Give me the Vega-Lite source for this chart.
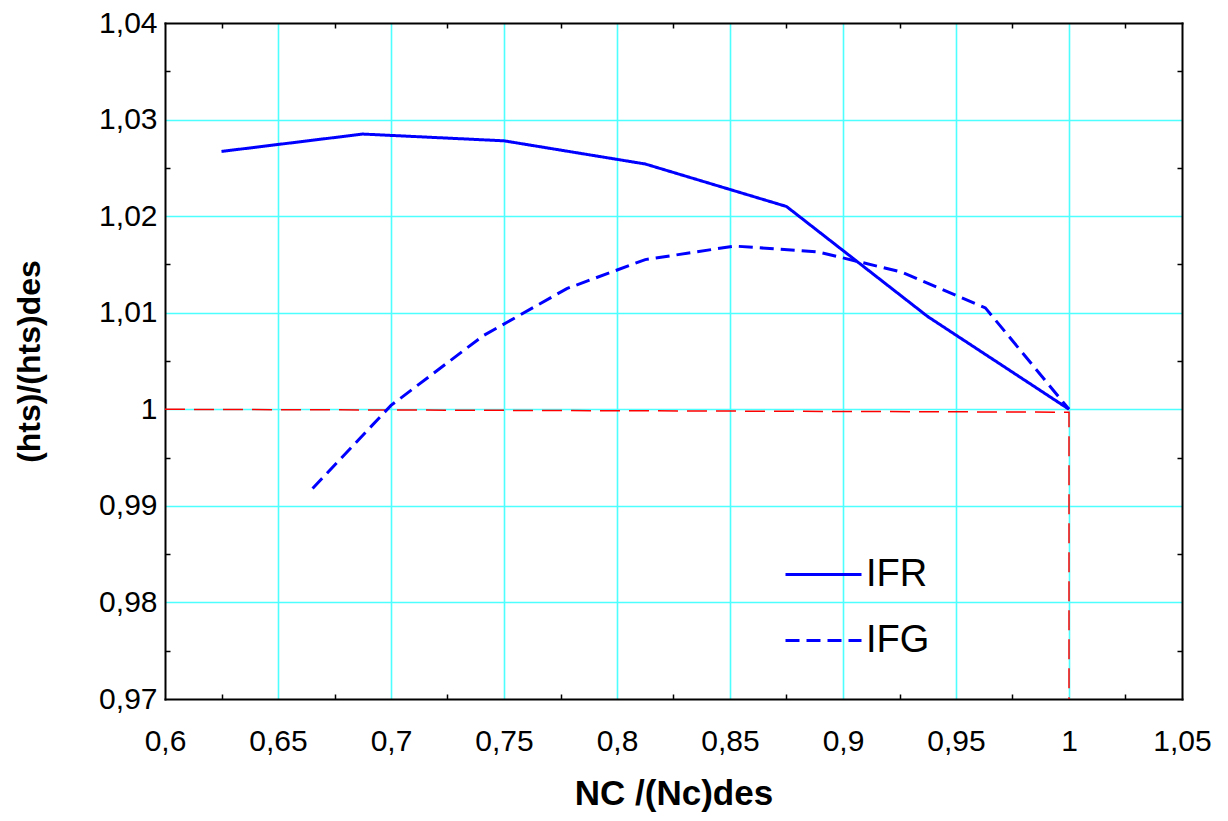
{
  "$schema": "https://vega.github.io/schema/vega-lite/v6.json",
  "autosize": {"type": "none"},
  "padding": {"left": 165, "top": 23, "right": 46, "bottom": 122},
  "width": 1017,
  "height": 676,
  "background": "white",
  "config": {
    "view": {"stroke": null},
    "axis": {"labelFont": "Liberation Sans", "titleFont": "Liberation Sans", "labelColor": "black", "titleColor": "black"}
  },
  "datasets": {
    "curves": [
      {"series": "IFR", "x": 0.625, "y": 1.0267},
      {"series": "IFR", "x": 0.6875, "y": 1.0285},
      {"series": "IFR", "x": 0.75, "y": 1.0278},
      {"series": "IFR", "x": 0.8125, "y": 1.0254},
      {"series": "IFR", "x": 0.875, "y": 1.021},
      {"series": "IFR", "x": 0.9375, "y": 1.0096},
      {"series": "IFR", "x": 1.0, "y": 1.0},
      {"series": "IFG", "x": 0.6653, "y": 0.9918},
      {"series": "IFG", "x": 0.7, "y": 1.0004},
      {"series": "IFG", "x": 0.7407, "y": 1.0076},
      {"series": "IFG", "x": 0.7778, "y": 1.0125},
      {"series": "IFG", "x": 0.8125, "y": 1.0155},
      {"series": "IFG", "x": 0.852, "y": 1.0169},
      {"series": "IFG", "x": 0.889, "y": 1.0163},
      {"series": "IFG", "x": 0.926, "y": 1.0142},
      {"series": "IFG", "x": 0.963, "y": 1.0105},
      {"series": "IFG", "x": 1.0, "y": 1.0}
    ],
    "ref": [
      {"i": 0, "x": 0.6, "y": 1.0},
      {"i": 1, "x": 1.0, "y": 0.9997},
      {"i": 2, "x": 1.0, "y": 0.97}
    ]
  },
  "resolve": {"axis": {"x": "independent", "y": "independent"}},
  "layer": [
    {
      "data": {"name": "ref"},
      "mark": {"type": "line", "color": "#FF0000", "strokeWidth": 1.5, "strokeDash": [20, 9]},
      "encoding": {
        "x": {"field": "x", "type": "quantitative", "scale": {"domain": [0.6, 1.05], "nice": false, "zero": false},
          "axis": {"orient": "top", "title": null, "labels": false, "grid": false,
            "values": [0.625, 0.675, 0.725, 0.775, 0.825, 0.875, 0.925, 0.975, 1.025],
            "tickSize": -5, "tickColor": "black", "tickWidth": 1.5, "domainColor": "black", "domainWidth": 2, "domainCap": "square"}},
        "y": {"field": "y", "type": "quantitative", "scale": {"domain": [0.97, 1.04], "nice": false, "zero": false},
          "axis": {"orient": "right", "title": null, "labels": false, "grid": false,
            "values": [0.975, 0.985, 0.995, 1.005, 1.015, 1.025, 1.035],
            "tickSize": -5, "tickColor": "black", "tickWidth": 1.5, "domainColor": "black", "domainWidth": 2, "domainCap": "square"}},
        "order": {"field": "i", "type": "quantitative"}
      }
    },
    {
      "data": {"name": "curves"},
      "mark": {"type": "line", "color": "#0000FF", "strokeWidth": 3},
      "encoding": {
        "x": {"field": "x", "type": "quantitative",
          "axis": {"orient": "bottom", "title": "NC /(Nc)des", "titleFontSize": 35, "titleFontWeight": "bold", "titlePadding": 20,
            "values": [0.6, 0.625, 0.65, 0.675, 0.7, 0.725, 0.75, 0.775, 0.8, 0.825, 0.85, 0.875, 0.9, 0.925, 0.95, 0.975, 1, 1.025, 1.05],
            "labelExpr": "round(datum.value*1000) % 50 == 0 ? replace(format(datum.value, '~g'), '.', ',') : ''",
            "labelFontSize": 30, "labelPadding": 32, "labelFlush": false, "labelOverlap": false,
            "grid": true, "gridColor": "#4DFFFF", "gridWidth": 1.6,
            "gridOpacity": {"condition": {"test": "round(datum.value*1000) % 50 == 0 && datum.value > 0.61 && datum.value < 1.04", "value": 1}, "value": 0},
            "tickSize": -5, "tickColor": "black", "tickWidth": 1.5,
            "tickOpacity": {"condition": {"test": "round(datum.value*1000) % 50 == 0", "value": 0}, "value": 1},
            "domainColor": "black", "domainWidth": 2, "domainCap": "square"}},
        "y": {"field": "y", "type": "quantitative",
          "axis": {"orient": "left", "title": "(hts)/(hts)des", "titleFontSize": 32, "titleFontWeight": "bold", "titlePadding": 52,
            "values": [0.97, 0.975, 0.98, 0.985, 0.99, 0.995, 1, 1.005, 1.01, 1.015, 1.02, 1.025, 1.03, 1.035, 1.04],
            "labelExpr": "round(datum.value*1000) % 10 == 0 ? replace(format(datum.value, '~g'), '.', ',') : ''",
            "labelFontSize": 30, "labelPadding": 13, "labelFlush": false, "labelOverlap": false,
            "grid": true, "gridColor": "#4DFFFF", "gridWidth": 1.6,
            "gridOpacity": {"condition": {"test": "round(datum.value*1000) % 10 == 0 && datum.value > 0.971 && datum.value < 1.039", "value": 1}, "value": 0},
            "tickSize": -5, "tickColor": "black", "tickWidth": 1.5,
            "tickOpacity": {"condition": {"test": "round(datum.value*1000) % 10 == 0", "value": 0}, "value": 1},
            "domainColor": "black", "domainWidth": 2, "domainCap": "square"}},
        "strokeDash": {"field": "series", "type": "nominal",
          "scale": {"domain": ["IFR", "IFG"], "range": [[1, 0], [14, 7]]},
          "legend": {"orient": "none", "legendX": 638, "legendY": 531, "title": null, "padding": 0,
            "symbolType": "M-2,0H2", "symbolSize": 1444, "symbolStrokeWidth": 3, "symbolStrokeColor": "#0000FF",
            "labelFont": "Liberation Sans", "labelFontSize": 38, "labelColor": "black", "labelOffset": 22, "rowPadding": 26}}
      }
    }
  ]
}
